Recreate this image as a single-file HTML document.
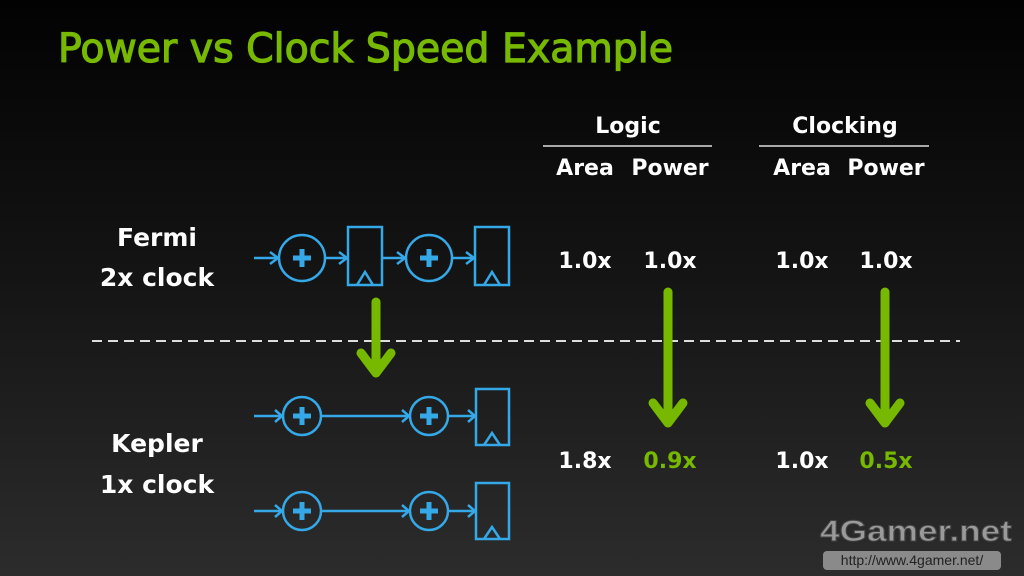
<!DOCTYPE html>
<html><head><meta charset="utf-8"><style>
html,body{margin:0;padding:0;background:#000}
svg{display:block}
text{font-family:"DejaVu Sans","Liberation Sans",sans-serif}
</style></head><body>
<svg width="1024" height="576" viewBox="0 0 1024 576" xmlns="http://www.w3.org/2000/svg">
<defs>
<linearGradient id="bg" x1="0" y1="0" x2="0" y2="1">
<stop offset="0" stop-color="#020202"/><stop offset="0.5" stop-color="#151515"/><stop offset="1" stop-color="#2c2c2c"/>
</linearGradient>
<g id="plus"><rect x="-9" y="-2.5" width="18" height="5" fill="#35a8e8"/><rect x="-2.5" y="-9" width="5" height="18" fill="#35a8e8"/></g>
</defs>
<rect width="1024" height="576" fill="url(#bg)"/>
<text x="58" y="62" font-size="40" fill="#76b900" stroke="#76b900" stroke-width="1.2" textLength="615" lengthAdjust="spacingAndGlyphs">Power vs Clock Speed Example</text>

<g fill="#fff" font-size="22" font-weight="bold" text-anchor="middle">
<text x="628" y="133">Logic</text>
<text x="845" y="133">Clocking</text>
<text x="585" y="175">Area</text><text x="670" y="175">Power</text>
<text x="802" y="175">Area</text><text x="886" y="175">Power</text>
<text x="157" y="246" font-size="25">Fermi</text>
<text x="157" y="286" font-size="25">2x clock</text>
<text x="157" y="452" font-size="25">Kepler</text>
<text x="157" y="493" font-size="25">1x clock</text>
<text x="585" y="268">1.0x</text><text x="670" y="268">1.0x</text>
<text x="802" y="268">1.0x</text><text x="886" y="268">1.0x</text>
<text x="585" y="468">1.8x</text><text x="670" y="468" fill="#76b900">0.9x</text>
<text x="802" y="468">1.0x</text><text x="886" y="468" fill="#76b900">0.5x</text>
</g>
<line x1="543" y1="146" x2="712" y2="146" stroke="#ddd" stroke-width="1.5"/>
<line x1="759" y1="146" x2="929" y2="146" stroke="#ddd" stroke-width="1.5"/>

<line x1="92" y1="341" x2="960" y2="341" stroke="#ddd" stroke-width="2" stroke-dasharray="10,6"/>

<g stroke="#35a8e8" stroke-width="2.5" fill="none">
<line x1="254" y1="258" x2="278" y2="258"/><polyline points="270,252 278,258 270,264"/>
<circle cx="302" cy="258" r="23"/>
<line x1="325" y1="258" x2="347" y2="258"/><polyline points="339,252 347,258 339,264"/>
<rect x="348" y="227" width="34" height="58"/>
<polyline points="357,285 365,272 373,285"/>
<line x1="382" y1="258" x2="405" y2="258"/><polyline points="397,252 405,258 397,264"/>
<circle cx="429" cy="258" r="23"/>
<line x1="452" y1="258" x2="474" y2="258"/><polyline points="466,252 474,258 466,264"/>
<rect x="475" y="227" width="34" height="58"/>
<polyline points="484,285 492,272 500,285"/>
<line x1="254" y1="416" x2="282" y2="416"/><polyline points="275,410 282,416 275,422"/>
<circle cx="302" cy="416" r="19"/>
<line x1="321" y1="416" x2="409" y2="416"/><polyline points="402,410 409,416 402,422"/>
<circle cx="429" cy="416" r="19"/>
<line x1="448" y1="416" x2="475" y2="416"/><polyline points="468,410 475,416 468,422"/>
<rect x="476" y="389" width="33" height="56"/>
<polyline points="484,445 492,433 500,445"/>
<line x1="254" y1="511" x2="282" y2="511"/><polyline points="275,505 282,511 275,517"/>
<circle cx="302" cy="511" r="19"/>
<line x1="321" y1="511" x2="409" y2="511"/><polyline points="402,505 409,511 402,517"/>
<circle cx="429" cy="511" r="19"/>
<line x1="448" y1="511" x2="475" y2="511"/><polyline points="468,505 475,511 468,517"/>
<rect x="476" y="483" width="33" height="56"/>
<polyline points="484,539 492,527 500,539"/>
</g>
<use href="#plus" x="302" y="258"/><use href="#plus" x="429" y="258"/>
<use href="#plus" x="302" y="416"/><use href="#plus" x="429" y="416"/>
<use href="#plus" x="302" y="511"/><use href="#plus" x="429" y="511"/>

<g stroke="#76b900" stroke-width="9" fill="none" stroke-linecap="round" stroke-linejoin="round">
<line x1="376" y1="302" x2="376" y2="372"/><polyline points="361,353 376,373 391,353"/>
<line x1="668" y1="292" x2="668" y2="422"/><polyline points="653,403 668,423 683,403"/>
<line x1="885" y1="292" x2="885" y2="422"/><polyline points="870,403 885,423 900,403"/>
</g>

<text x="820" y="541" font-size="30" font-weight="bold" fill="#9a9a9a" stroke="#444" stroke-width="1" textLength="192" lengthAdjust="spacingAndGlyphs" style="font-family:'Liberation Sans',sans-serif">4Gamer.net</text>
<rect x="823" y="551" width="178" height="19" rx="4" fill="#8a8a8a"/>
<text x="912" y="565" font-size="14" fill="#222" text-anchor="middle" style="font-family:'Liberation Sans',sans-serif">http://www.4gamer.net/</text>
</svg>
</body></html>
